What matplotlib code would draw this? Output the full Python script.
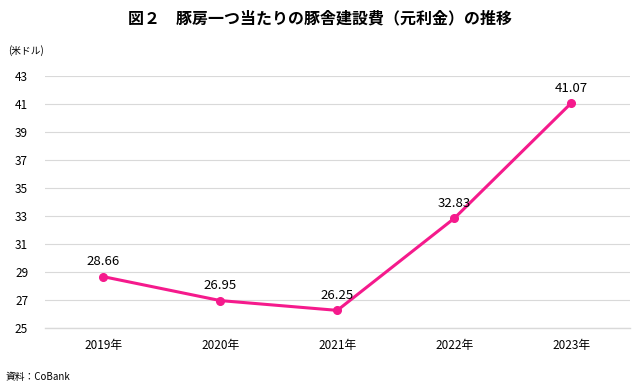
import matplotlib
matplotlib.use('Agg')
import matplotlib.pyplot as plt

plt.rcParams['font.family'] = ['Noto Sans CJK JP', 'DejaVu Sans']

years = ['2019年', '2020年', '2021年', '2022年', '2023年']
values = [28.66, 26.95, 26.25, 32.83, 41.07]
yticks = [25, 27, 29, 31, 33, 35, 37, 39, 41, 43]

fig = plt.figure(figsize=(6.4, 3.88), dpi=100)
ax = fig.add_axes([0.07, 0.155, 0.914, 0.649])

x = list(range(len(years)))
ax.plot(x, values, color='#f51a8c', linewidth=2.2, marker='o', markersize=5.5, zorder=3)
for xi, v in zip(x, values):
    ax.annotate(f'{v:.2f}', (xi, v), xytext=(0, 6), textcoords='offset points',
                ha='center', va='bottom', fontsize=9.5)

ax.set_xlim(-0.5, 4.5)
ax.set_ylim(25, 43)
ax.set_yticks(yticks)
ax.set_xticks(x)
ax.set_xticklabels(years)
ax.tick_params(axis='both', length=0, labelsize=8.5)
ax.tick_params(axis='y', pad=12)
ax.tick_params(axis='x', pad=8)
ax.yaxis.grid(True, color='#d9d9d9', linewidth=0.8)
ax.axhline(yticks[0], color='#d9d9d9', linewidth=1.0, clip_on=False, zorder=1)
ax.set_axisbelow(True)
for s in ax.spines.values():
    s.set_visible(False)

fig.text(0.5, 0.953, '図２　豚房一つ当たりの豚舎建設費（元利金）の推移', ha='center', va='center',
         fontsize=11.5, fontweight='bold')
fig.text(0.012, 0.87, '(米ドル)', ha='left', va='center', fontsize=7)
fig.text(0.008, 0.028, '資料：CoBank', ha='left', va='center', fontsize=7)

fig.savefig('out.png', dpi=100)
